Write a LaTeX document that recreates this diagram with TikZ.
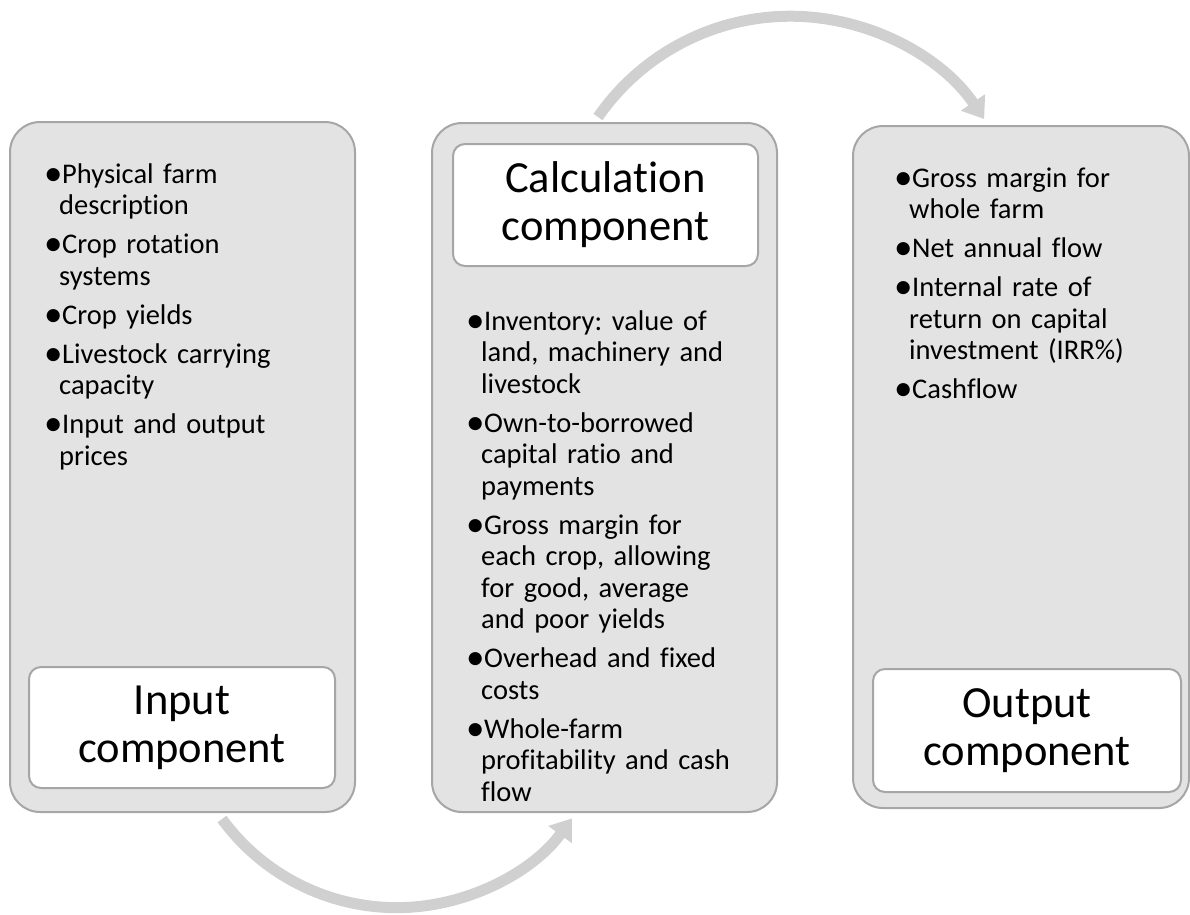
\documentclass[tikz,border=0pt]{standalone}
\usepackage{graphicx}
\usepackage{fontspec}
\setmainfont{Carlito}[Ligatures=NoCommon]
\usetikzlibrary{arrows.meta}
\definecolor{boxfill}{HTML}{E3E3E3}
\definecolor{boxline}{HTML}{A6A6A6}
\definecolor{arrowgray}{HTML}{D0D0D0}
\newcommand{\bulletmark}{\makebox[14pt][l]{\hspace*{-4pt}\raisebox{-2pt}{\scalebox{1.3}{•}}}}
\newcommand{\fitem}[1]{\frenchspacing\hangindent=11pt\hangafter=1\noindent\bulletmark#1\par}
\newcommand{\bitem}[1]{\vskip7.5pt\hangindent=11pt\hangafter=1\noindent\bulletmark#1\par}
\tikzset{
  bigbox/.style={draw=boxline, fill=boxfill, line width=2pt, rounded corners=30pt, inner sep=0pt},
  titlebox/.style={draw=boxline, fill=white, line width=2pt, rounded corners=12pt, inner sep=0pt,
    font=\fontsize{44.5}{48}\selectfont, align=center},
  bullets/.style={anchor=base west, inner sep=0pt, text width=320pt, align=left,
    font=\fontsize{28.5}{31.5}\selectfont},
  flowarrow/.style={draw=arrowgray, line width=11pt, -{Triangle[length=20pt,width=28pt]}}
}
\begin{document}
\begin{tikzpicture}[x=1pt,y=-1pt]
\useasboundingbox (0,0) rectangle (1190,914);
% arrows
\coordinate (topstart) at (598,117);
\coordinate (botstart) at (222,819);
\draw[flowarrow] (topstart) arc[start angle=145.3, end angle=34.1, radius=234pt];
\draw[flowarrow] (botstart) arc[start angle=-143.8, end angle=-36, radius=216.5pt];
% outer boxes
\node[bigbox, minimum width=345pt, minimum height=690pt] (inbox) at (182.5,467) {};
\node[bigbox, minimum width=345pt, minimum height=689pt] (calcbox) at (604.5,467.5) {};
\node[bigbox, minimum width=336pt, minimum height=682pt] (outbox) at (1021,467) {};
% title boxes
\node[titlebox, minimum width=306pt, minimum height=121pt] (intitle) at (182,727.5) {Input\\component};
\node[titlebox, minimum width=305pt, minimum height=122pt] (calctitle) at (605.5,205) {Calculation\\component};
\node[titlebox, minimum width=308pt, minimum height=123pt] (outtitle) at (1027,730.5) {Output\\component};
% bullet texts
\node[bullets] (intext) at (48,183) {%
\fitem{Physical farm\newline description}
\bitem{Crop rotation\newline systems}
\bitem{Crop yields}
\bitem{Livestock carrying\newline capacity}
\bitem{Input and output\newline prices}};
\node[bullets] (calctext) at (470,330) {%
\fitem{Inventory: value of\newline land, machinery and\newline livestock}
\bitem{Own-to-borrowed\newline capital ratio and\newline payments}
\bitem{Gross margin for\newline each crop, allowing\newline for good, average\newline and poor yields}
\bitem{Overhead and fixed\newline costs}
\bitem{Whole-farm\newline profitability and cash\newline flow}};
\node[bullets] (outtext) at (898,187) {%
\fitem{Gross margin for\newline whole farm}
\bitem{Net annual flow}
\bitem{Internal rate of\newline return on capital\newline investment (IRR\%)}
\bitem{Cashflow}};
\end{tikzpicture}
\end{document}
